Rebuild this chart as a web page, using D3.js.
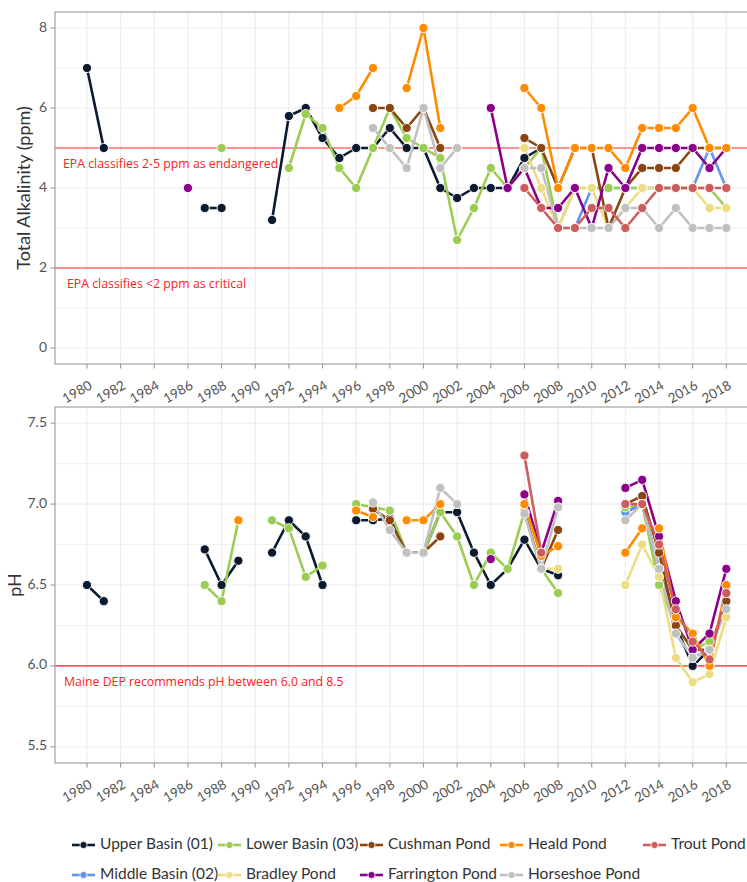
<!DOCTYPE html>
<html><head><meta charset="utf-8">
<script src="https://cdn.jsdelivr.net/npm/d3@7"></script>
<style>body{margin:0;background:#fff}svg{display:block}</style>
</head><body>
<svg id="chart" width="747" height="882"></svg>
<script>
// ---------- data ----------
const seriesNames = ["Upper Basin (01)","Middle Basin (02)","Lower Basin (03)","Bradley Pond","Cushman Pond","Farrington Pond","Heald Pond","Horseshoe Pond","Trout Pond"];
const seriesColors = ["#0c1a30","#6495ed","#9acd52","#eedc82","#8b4513","#8b008b","#ff8c00","#c0c0c0","#cd5c5c"];

// Total alkalinity (ppm): [year, value]
const alkUpper = [[1980,7.0],[1981,5.0],[1987,3.5],[1988,3.5],[1991,3.2],[1992,5.8],[1993,6.0],[1994,5.25],[1995,4.75],[1996,5.0],[1997,5.0],[1998,5.5],[1999,5.0],[2000,5.0],[2001,4.0],[2002,3.75],[2003,4.0],[2004,4.0],[2005,4.0],[2006,4.75],[2007,5.0]];
const alkMiddle = [[2009,3.0],[2010,4.0],[2011,4.0],[2012,4.0],[2013,4.0],[2014,4.0],[2015,4.0],[2016,4.0],[2017,5.0],[2018,4.0]];
const alkLower = [[1988,5.0],[1992,4.5],[1993,5.85],[1994,5.5],[1995,4.5],[1996,4.0],[1997,5.0],[1998,6.0],[1999,5.25],[2000,5.0],[2001,4.75],[2002,2.7],[2003,3.5],[2004,4.5],[2005,4.0],[2006,4.5],[2007,5.0],[2008,3.0],[2009,4.0],[2010,4.0],[2011,4.0],[2012,4.0],[2013,4.0],[2014,4.0],[2015,4.0],[2016,4.0],[2017,4.0],[2018,3.5]];
const alkBradley = [[2006,5.0],[2007,4.0],[2008,3.0],[2009,4.0],[2010,4.0],[2011,3.0],[2012,3.5],[2013,4.0],[2014,4.0],[2015,4.0],[2016,4.0],[2017,3.5],[2018,3.5]];
const alkCushman = [[1997,6.0],[1998,6.0],[1999,5.5],[2000,6.0],[2001,5.0],[2006,5.25],[2007,5.0],[2008,4.0],[2009,5.0],[2010,5.0],[2011,3.0],[2012,4.0],[2013,4.5],[2014,4.5],[2015,4.5],[2016,5.0],[2017,5.0],[2018,5.0]];
const alkFarrington = [[1986,4.0],[2004,6.0],[2005,4.0],[2006,4.5],[2007,3.5],[2008,3.5],[2009,4.0],[2010,3.0],[2011,4.5],[2012,4.0],[2013,5.0],[2014,5.0],[2015,5.0],[2016,5.0],[2017,4.5],[2018,5.0]];
const alkHeald = [[1995,6.0],[1996,6.3],[1997,7.0],[1999,6.5],[2000,8.0],[2001,5.5],[2006,6.5],[2007,6.0],[2008,4.0],[2009,5.0],[2010,5.0],[2011,5.0],[2012,4.5],[2013,5.5],[2014,5.5],[2015,5.5],[2016,6.0],[2017,5.0],[2018,5.0]];
const alkHorseshoe = [[1997,5.5],[1998,5.0],[1999,4.5],[2000,6.0],[2001,4.5],[2002,5.0],[2006,4.5],[2007,4.5],[2008,3.0],[2009,3.0],[2010,3.0],[2011,3.0],[2012,3.5],[2013,3.5],[2014,3.0],[2015,3.5],[2016,3.0],[2017,3.0],[2018,3.0]];
const alkTrout = [[2006,4.0],[2007,3.5],[2008,3.0],[2009,3.0],[2010,3.5],[2011,3.5],[2012,3.0],[2013,3.5],[2014,4.0],[2015,4.0],[2016,4.0],[2017,4.0],[2018,4.0]];

// pH: [year, value]
const phUpper = [[1980,6.5],[1981,6.4],[1987,6.72],[1988,6.5],[1989,6.65],[1991,6.7],[1992,6.9],[1993,6.8],[1994,6.5],[1996,6.9],[1997,6.9],[1998,6.91],[1999,6.7],[2000,6.7],[2001,6.95],[2002,6.95],[2003,6.7],[2004,6.5],[2005,6.6],[2006,6.78],[2007,6.6],[2008,6.56],[2012,6.95],[2013,7.0],[2014,6.6],[2015,6.25],[2016,6.0],[2017,6.1]];
const phMiddle = [[2012,6.95],[2013,7.0],[2014,6.6],[2015,6.2],[2016,6.05],[2017,6.1]];
const phLower = [[1987,6.5],[1988,6.4],[1989,6.9],[1991,6.9],[1992,6.85],[1993,6.55],[1994,6.62],[1996,7.0],[1997,6.98],[1998,6.96],[1999,6.7],[2000,6.7],[2001,6.95],[2002,6.8],[2003,6.5],[2004,6.7],[2005,6.6],[2006,6.95],[2007,6.6],[2008,6.45],[2012,6.98],[2013,7.0],[2014,6.5],[2015,6.25],[2016,6.1],[2017,6.15]];
const phBradley = [[2006,6.95],[2007,6.6],[2008,6.6],[2012,6.5],[2013,6.75],[2014,6.55],[2015,6.05],[2016,5.9],[2017,5.95],[2018,6.3]];
const phCushman = [[1997,6.97],[1998,6.9],[1999,6.7],[2000,6.7],[2001,6.8],[2006,6.95],[2007,6.6],[2008,6.84],[2012,7.0],[2013,7.05],[2014,6.7],[2015,6.25],[2016,6.1],[2017,6.1],[2018,6.4]];
const phFarrington = [[2004,6.66],[2006,7.06],[2007,6.7],[2008,7.02],[2012,7.1],[2013,7.15],[2014,6.8],[2015,6.4],[2016,6.1],[2017,6.2],[2018,6.6]];
const phHeald = [[1989,6.9],[1996,6.96],[1997,6.92],[1999,6.9],[2000,6.9],[2001,7.0],[2006,7.0],[2007,6.68],[2008,6.74],[2012,6.7],[2013,6.85],[2014,6.85],[2015,6.3],[2016,6.2],[2017,6.0],[2018,6.5]];
const phHorseshoe = [[1997,7.01],[1998,6.84],[1999,6.7],[2000,6.7],[2001,7.1],[2002,7.0],[2006,6.94],[2007,6.6],[2008,6.98],[2012,6.9],[2013,7.0],[2014,6.6],[2015,6.2],[2016,6.05],[2017,6.1],[2018,6.35]];
const phTrout = [[2006,7.3],[2007,6.7],[2012,7.0],[2013,7.0],[2014,6.75],[2015,6.35],[2016,6.15],[2017,6.04],[2018,6.45]];

const xTicks = [1980,1982,1984,1986,1988,1990,1992,1994,1996,1998,2000,2002,2004,2006,2008,2010,2012,2014,2016,2018];
const alkTicks = [0,2,4,6,8];
const alkMinor = [1,3,5,7];
const phTicks = [5.5,6.0,6.5,7.0,7.5];
const phMinor = [5.75,6.25,6.75,7.25];
const alkRefLines = [5,2];
const alkRefLabels = ["EPA classifies 2-5 ppm as endangered","EPA classifies <2 ppm as critical"];
const phRefLines = [6.0];
const phRefLabels = ["Maine DEP recommends pH between 6.0 and 8.5"];

const alkData = [alkUpper,alkMiddle,alkLower,alkBradley,alkCushman,alkFarrington,alkHeald,alkHorseshoe,alkTrout];
const phData = [phUpper,phMiddle,phLower,phBradley,phCushman,phFarrington,phHeald,phHorseshoe,phTrout];
const legendOrder = [0,2,4,6,8,1,3,5,7]; // row-wise reading of the legend grid

// ---------- drawing ----------
const svg = d3.select("#chart");
const x = d3.scaleLinear().domain([1978.1, 2019.9]).range([55, 758.3]);
const FONT = "Lato, 'Open Sans', sans-serif";

function panel(opts){
  const {y, top, bottom, ticks, minor, fmt, data, refs, refLabels, refPos, title, titleX, refStyle} = opts;
  const g = svg.append("g");
  g.selectAll(".gmin").data(minor).join("line")
    .attr("x1",55).attr("x2",758).attr("y1",d=>y(d)).attr("y2",d=>y(d))
    .attr("stroke","#f0f0f0").attr("stroke-width",1);
  g.selectAll(".gmaj").data(ticks).join("line")
    .attr("x1",55).attr("x2",758).attr("y1",d=>y(d)).attr("y2",d=>y(d))
    .attr("stroke","#ebebeb").attr("stroke-width",1.1);
  g.selectAll(".gx").data(xTicks).join("line")
    .attr("x1",d=>x(d)).attr("x2",d=>x(d)).attr("y1",top).attr("y2",bottom)
    .attr("stroke","#ebebeb").attr("stroke-width",1.1);
  g.selectAll(".ref").data(refs).join("line")
    .attr("x1",55).attr("x2",758).attr("y1",d=>y(d)).attr("y2",d=>y(d))
    .attr("stroke",refStyle.color).attr("stroke-width",refStyle.width);
  g.selectAll(".reft").data(refLabels).join("text")
    .attr("x",(d,i)=>refPos[i][0]).attr("y",(d,i)=>refPos[i][1])
    .attr("font-family","'Open Sans', sans-serif").attr("font-size",12.3)
    .attr("fill","#ff2020").attr("dominant-baseline","middle").text(d=>d);
  const line = d3.line().x(d=>x(d[0])).y(d=>y(d[1]));
  data.forEach((s,i)=>{
    const runs=[]; let cur=[];
    s.forEach((p,j)=>{ if(j>0 && p[0]-s[j-1][0]>1){runs.push(cur);cur=[];} cur.push(p); });
    if(cur.length) runs.push(cur);
    runs.filter(r=>r.length>1).forEach(r=>{
      g.append("path").attr("d",line(r)).attr("fill","none")
        .attr("stroke",seriesColors[i]).attr("stroke-width",2.6)
        .attr("stroke-linejoin","round").attr("stroke-linecap","butt");
    });
  });
  data.forEach((s,i)=>{
    g.selectAll(null).data(s).join("circle")
      .attr("cx",d=>x(d[0])).attr("cy",d=>y(d[1])).attr("r",4.6)
      .attr("fill",seriesColors[i]).attr("stroke","#fff").attr("stroke-width",0.9);
  });
  g.append("rect").attr("x",55).attr("y",top).attr("width",703.3).attr("height",bottom-top)
    .attr("fill","none").attr("stroke","#999").attr("stroke-width",1.1);
  g.selectAll(".yt").data(ticks).join("line")
    .attr("x1",50.5).attr("x2",55).attr("y1",d=>y(d)).attr("y2",d=>y(d))
    .attr("stroke","#999").attr("stroke-width",1.1);
  g.selectAll(".yl").data(ticks).join("text")
    .attr("x",47).attr("y",d=>y(d)).attr("text-anchor","end").attr("dominant-baseline","middle")
    .attr("font-family",FONT).attr("font-size",14).attr("fill","#555").text(fmt);
  g.selectAll(".xt").data(xTicks).join("line")
    .attr("x1",d=>x(d)).attr("x2",d=>x(d)).attr("y1",bottom).attr("y2",bottom+4.5)
    .attr("stroke","#999").attr("stroke-width",1.1);
  g.selectAll(".xl").data(xTicks).join("text")
    .attr("transform",d=>`translate(${x(d)+6},${bottom+24}) rotate(-30)`)
    .attr("text-anchor","end")
    .attr("font-family",FONT).attr("font-size",13.5).attr("fill","#555").text(d=>d);
  g.append("text").attr("transform",`translate(${titleX},${(top+bottom)/2}) rotate(-90)`)
    .attr("text-anchor","middle").attr("font-family",FONT).attr("font-size",18)
    .attr("fill","#333").text(title);
}

const yAlk = d3.scaleLinear().domain([-0.4, 8.4]).range([364, 12]);
panel({y:yAlk, top:12, bottom:364, ticks:alkTicks, minor:alkMinor, fmt:d=>d3.format("d")(d),
  data:alkData, refs:alkRefLines, refLabels:alkRefLabels, refPos:[[63,165],[67,285]],
  title:"Total Alkalinity (ppm)", titleX:30, refStyle:{color:"#ff2a2a",width:1.1}});

const yPh = d3.scaleLinear().domain([5.4, 7.6]).range([763, 407]);
panel({y:yPh, top:407, bottom:763, ticks:phTicks, minor:phMinor, fmt:d=>d3.format(".1f")(d),
  data:phData, refs:phRefLines, refLabels:phRefLabels, refPos:[[64,683]],
  title:"pH", titleX:21, refStyle:{color:"#ff5c5c",width:1.6}});

// legend
const colX = [72,218,360,500,643];
const rowY = [845,875];
const lg = svg.append("g");
legendOrder.forEach((si,k)=>{
  const col = k%5, row = Math.floor(k/5);
  const gx = colX[col], gy = rowY[row];
  const it = lg.append("g");
  it.append("line").attr("x1",gx).attr("x2",gx+23).attr("y1",gy).attr("y2",gy)
    .attr("stroke",seriesColors[si]).attr("stroke-width",2.6);
  it.append("circle").attr("cx",gx+11.5).attr("cy",gy).attr("r",3.6)
    .attr("fill",seriesColors[si]).attr("stroke","#fff").attr("stroke-width",0.8);
  it.append("text").attr("x",gx+28).attr("y",gy).attr("dominant-baseline","middle")
    .attr("font-family",FONT).attr("font-size",15.5).attr("fill","#333").text(seriesNames[si]);
});
</script>
</body></html>
